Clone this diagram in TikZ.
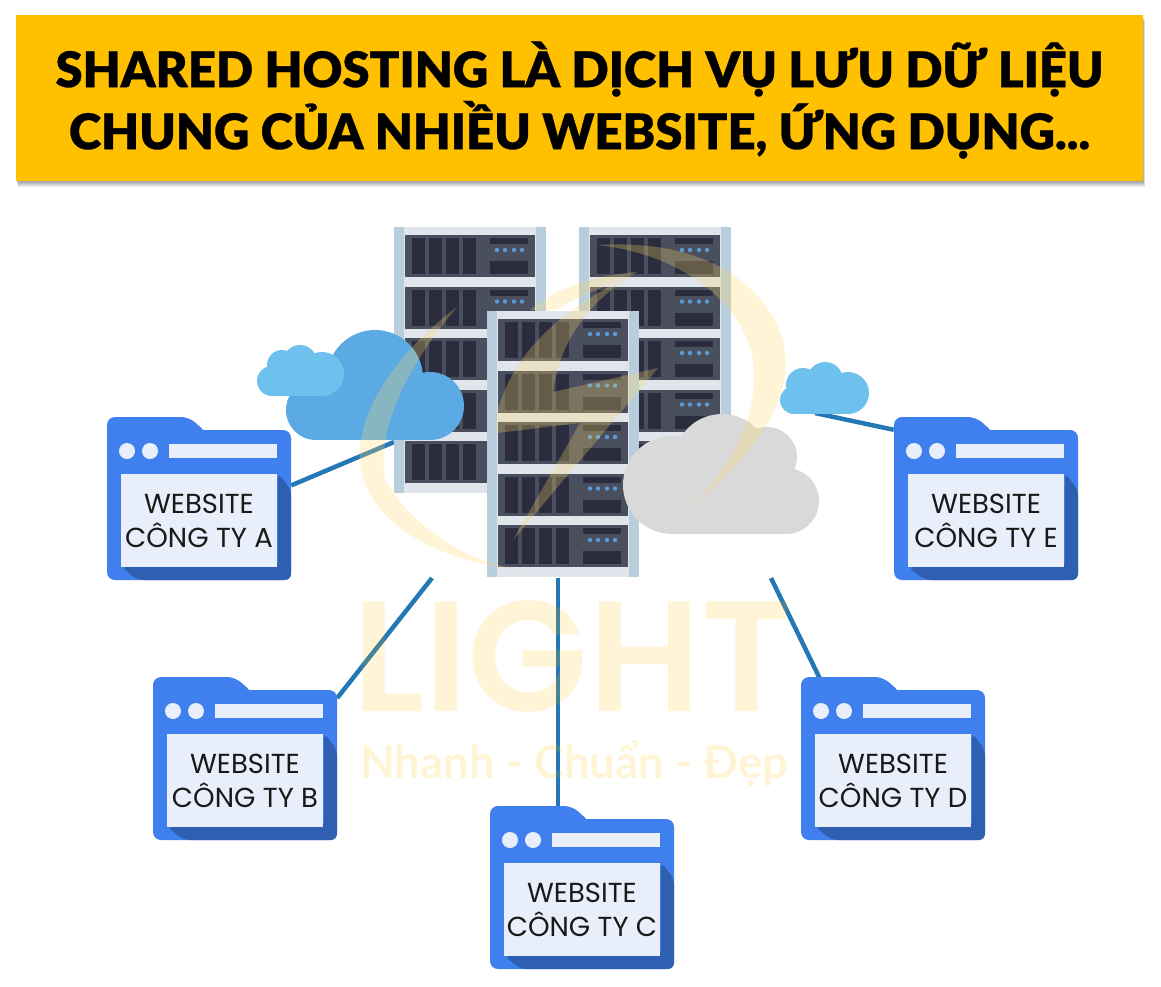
\documentclass[tikz,border=0pt]{standalone}
\usepackage{fontspec}
\usetikzlibrary{backgrounds}

\setmainfont{Lato}
\newfontfamily\titlefont{Lato Black}[FakeBold=0.6]
\newfontfamily\sitefont{Poppins}
\newfontfamily\logofont{Poppins SemiBold}
\newfontfamily\sloganfont{Lato Bold}

\definecolor{bannerYellow}{HTML}{FFC000}
\definecolor{postBlue}{HTML}{B9CEDD}
\definecolor{shelfGrey}{HTML}{E1E5EC}
\definecolor{unitGrey}{HTML}{4A4F5E}
\definecolor{unitDark}{HTML}{2B2D3F}
\definecolor{ledBlue}{HTML}{5B9BD5}
\definecolor{cloudBlue}{HTML}{5BAAE3}
\definecolor{cloudSky}{HTML}{6EC1EC}
\definecolor{cloudGrey}{HTML}{D9D9D9}
\definecolor{linkBlue}{HTML}{2478B5}
\definecolor{siteBlue}{HTML}{3F7FEE}
\definecolor{siteDark}{HTML}{2F5FB0}
\definecolor{sitePale}{HTML}{E8EFFA}
\definecolor{markYellow}{HTML}{FFD966}

\tikzset{
  linkline/.style={linkBlue, line width=4.5pt},
  sitebody/.style={fill=siteBlue, rounded corners=8pt, inner sep=0pt,
    minimum width=184pt, minimum height=150pt},
  sitelabel/.style={fill=sitePale, inner sep=0pt, minimum width=156pt,
    minimum height=93pt, align=center, text=black!90,
    font=\sitefont\fontsize{27.5}{34}\selectfont},
  watermark/.style={fill=markYellow, opacity=0.27},
  logotext/.style={text=bannerYellow, text opacity=0.16, inner sep=0pt}
}

% One server rack, from its top left corner
\newcommand{\ServerRack}[2]{
  \begin{scope}[shift={(#1,#2)}]
    \fill[shelfGrey] (0,0) rectangle (152,266);
    \fill[postBlue] (0,0) rectangle (10,266);
    \fill[postBlue] (142,0) rectangle (152,266);
    \foreach \u in {0,...,4}{
      \begin{scope}[shift={(11,8+51.5*\u)}]
        \fill[unitGrey] (0,0) rectangle (130,42);
        \foreach \b in {7,24,41,58}
          \fill[unitDark] (\b,3) rectangle (\b+13,39);
        \fill[unitDark] (85,3) rectangle (123,9);
        \fill[unitDark] (85,26) rectangle (123,39);
        \foreach \d in {92,100,109,117}
          \fill[ledBlue] (\d,15) circle (2.2);
      \end{scope}
    }
  \end{scope}
}

% One browser window: name, top left corner, label
\newcommand{\Website}[4]{
  \begin{scope}[shift={(#2,#3)}]
    \fill[siteBlue, rounded corners=8pt] (0,30) -- (0,0) -- (82,0) -- (100,16) -- (100,30) -- cycle;
    \node[sitebody] (site#1) at (92,88) {};
    \fill[siteDark, rounded corners=6pt] (171,56) -- (184,73) -- (184,163) -- (31,163) -- (14,150) -- (171,150) -- cycle;
    \fill[sitePale] (20,34) circle (8);
    \fill[sitePale] (43,34) circle (8);
    \fill[sitePale] (62,27) rectangle (170,41);
    \node[sitelabel] (site#1label) at (92,103.5) {#4};
  \end{scope}
}

\begin{document}
\begin{tikzpicture}[x=1pt,y=-1pt]

    \useasboundingbox (0,0) rectangle (1161,986);

    % Soft shadow under the banner
    \foreach \s in {1,...,6}
      \fill[black, opacity=0.07] (16+\s/3,15+\s) rectangle (1143+\s/3,181+\s);

    % Yellow banner with the title
    \node[fill=bannerYellow, inner sep=0pt, minimum width=1127pt, minimum height=166pt] (banner) at (579.5,98) {};
    \node[align=center, inner sep=0pt, font=\titlefont\fontsize{49}{62}\selectfont] (title) at (579.5,100)
      {SHARED HOSTING LÀ DỊCH VỤ LƯU DỮ LIỆU\\CHUNG CỦA NHIỀU WEBSITE, ỨNG DỤNG...};

    % The three racks, the front one last
    \ServerRack{394}{227}
    \ServerRack{579}{227}
    \ServerRack{487}{311}

    % Big blue cloud
    \begin{scope}[cloudBlue]
      \fill (316,410) circle (30);
      \fill (375,378) circle (48);
      \fill (430,406) circle (34);
      \fill (316,400) rectangle (430,440);
    \end{scope}

    % Small sky cloud next to it
    \begin{scope}[cloudSky]
      \fill (272,381) circle (15);
      \fill (282,365) circle (15);
      \fill (300,362) circle (17);
      \fill (322,374) circle (22);
      \fill (272,375) rectangle (322,396);
    \end{scope}

    % Small sky cloud on the right
    \begin{scope}[cloudSky]
      \fill (794,400) circle (14);
      \fill (803,385) circle (17);
      \fill (825,380) circle (18);
      \fill (848,393) circle (21);
      \fill (794,390) rectangle (848,414);
    \end{scope}

    % Grey cloud in front of the racks
    \begin{scope}[cloudGrey]
      \fill (672,485) circle (49);
      \fill (722,462) circle (48);
      \fill (767,457) circle (30);
      \fill (786,501) circle (33);
      \fill (672,470) rectangle (786,534);
    \end{scope}

    % The five windows
    \Website{A}{107}{417}{WEBSITE\\CÔNG TY A}
    \Website{B}{153}{677}{WEBSITE\\CÔNG TY B}
    \Website{C}{490}{806}{WEBSITE\\CÔNG TY C}
    \Website{D}{801}{677}{WEBSITE\\CÔNG TY D}
    \Website{E}{894}{417}{WEBSITE\\CÔNG TY E}

    % Free ends of the links, at the racks and clouds
    \coordinate (hubA) at (394,442);
    \coordinate (hubB) at (432,578);
    \coordinate (hubC) at (558,578);
    \coordinate (hubD) at (771,578);
    \coordinate (hubE) at (815,413);

    % Links go behind everything else
    \begin{pgfonlayer}{background}
      \draw[linkline] (siteA.12) -- (hubA);
      \draw[linkline] (siteB.36) -- (hubB);
      \draw[linkline] (siteC.north -| hubC) -- (hubC);
      \draw[linkline] (siteD.132) -- (hubD);
      \draw[linkline] (siteE.north west) -- (hubE);
    \end{pgfonlayer}

    % Pale logo over the whole picture: two arcs, a small crescent and the bolt
    \fill[watermark] (597,245) .. controls (680,240) and (735,265) .. (765,305)
      .. controls (800,350) and (800,420) .. (690,507)
      .. controls (735,465) and (760,410) .. (753,360)
      .. controls (745,310) and (690,255) .. (597,245) -- cycle;
    \fill[watermark] (457,307) .. controls (400,350) and (355,410) .. (360,465)
      .. controls (370,530) and (450,565) .. (527,570)
      .. controls (470,565) and (415,530) .. (385,480)
      .. controls (375,420) and (420,350) .. (457,307) -- cycle;
    \fill[watermark] (530,310) .. controls (560,285) and (600,275) .. (637,272)
      .. controls (610,285) and (580,295) .. (556,310) -- cycle;
    \fill[watermark] (637,272) .. controls (560,310) and (515,350) .. (497,412)
      -- (497,433) -- (580,423) -- (513,540) -- (658,368) -- (553,392)
      .. controls (560,340) and (590,300) .. (637,272) -- cycle;

    % Logo words
    \node[logotext, anchor=south west, text height=110pt, text depth=0pt,
      font=\logofont\fontsize{157}{157}\selectfont] (logo) at (352,712) {LIGHT};
    \node[logotext, anchor=base west, text height=36pt, text depth=8pt,
      font=\sloganfont\fontsize{45.5}{45.5}\selectfont] (slogan) at (360,778) {Nhanh - Chuẩn - Đẹp};

\end{tikzpicture}
\end{document}
